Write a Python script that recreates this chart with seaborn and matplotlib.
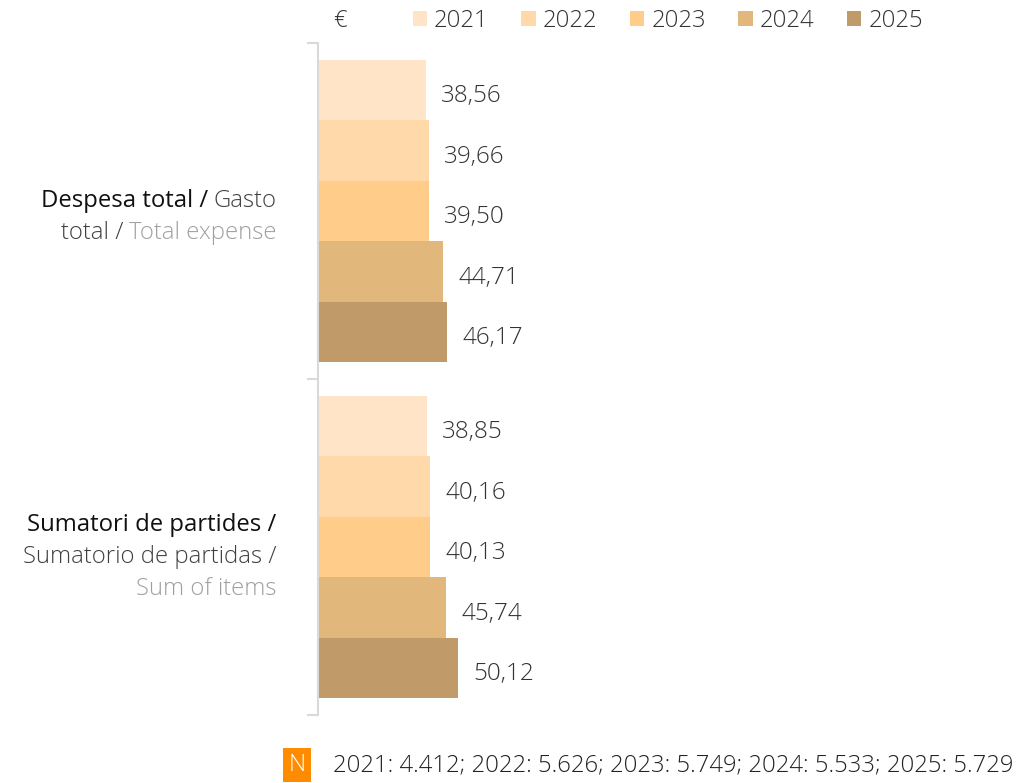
import matplotlib
matplotlib.use("Agg")
import matplotlib.pyplot as plt
from matplotlib.patches import Patch
import seaborn as sns
import pandas as pd

# data
categories = ["Despesa total", "Sumatori de partides"]
years = ["2021", "2022", "2023", "2024", "2025"]
despesa = [38.56, 39.66, 39.50, 44.71, 46.17]
sumatori = [38.85, 40.16, 40.13, 45.74, 50.12]
sample_n = ["4.412", "5.626", "5.749", "5.533", "5.729"]
colors = ["#FFE4C7", "#FFD9A9", "#FFCC8A", "#E2B77C", "#C19A6A"]

# multi-coloured category labels, one list of (text, colour) pieces per line
cat_labels = [
    [[("Despesa total /", "#111111"), ("Gasto", "#404040")],
     [("total /", "#404040"), ("Total expense", "#A0A0A0")]],
    [[("Sumatori de partides /", "#111111")],
     [("Sumatorio de partidas /", "#404040")],
     [("Sum of items", "#A0A0A0")]],
]

df = pd.DataFrame({
    "cat": [categories[0]] * 5 + [categories[1]] * 5,
    "year": years * 2,
    "value": despesa + sumatori,
})

sns.set_style("white")
plt.rcParams["font.family"] = ["Open Sans", "DejaVu Sans"]

FS = 17.2
W, H = 1021, 783
fig = plt.figure(figsize=(W / 100, H / 100), dpi=100)
ax = fig.add_axes([318 / W, 68 / H, 672 / W, 672 / H])

sns.barplot(data=df, x="value", y="cat", hue="year", palette=colors,
            orient="h", width=0.9, dodge=True, legend=False, ax=ax,
            saturation=1)

ax.set_xlim(0, 240)
ax.set_ylim(1.5, -0.5)
ax.set_xlabel("")
ax.set_ylabel("")
ax.set_xticks([])
ax.set_yticks([])
ax.set_yticks([-0.5, 0.5, 1.5], minor=True)
ax.tick_params(axis="y", which="minor", length=8, width=1.5, color="#D9D9D9",
               direction="out", left=True)
for s in ["top", "right", "bottom"]:
    ax.spines[s].set_visible(False)
ax.spines["left"].set_color("#D9D9D9")
ax.spines["left"].set_linewidth(1.5)

for cont in ax.containers:
    for p in cont.patches:
        p.set_edgecolor("none")
    labs = ax.bar_label(cont, labels=[f"{v:.2f}".replace(".", ",") for v in cont.datavalues],
                        padding=11, fontsize=17.5, color="#333333", fontweight="light")
    for t in labs:
        t.set_va("center")
        t.set_y(-4.5)

# category labels, right aligned, pieces placed right to left
fig.canvas.draw()
renderer = fig.canvas.get_renderer()
right_px = 276
gap_px = 5
for i, lines in enumerate(cat_labels):
    cy = H - ax.transData.transform((0, i))[1]  # pixel from top
    n = len(lines)
    shift = 12 if n == 2 else 16
    for k, pieces in enumerate(lines):
        base = cy + 32 * (k - (n - 1) / 2) + shift
        x = right_px
        for txt, col in reversed(pieces):
            t = fig.text(x / W, 1 - base / H, txt, ha="right", va="baseline",
                         fontsize=FS, color=col,
                         fontweight="normal" if col == "#111111" else "light")
            w = t.get_window_extent(renderer).width
            x -= w + gap_px

# legend
fig.text(333 / W, 1 - 21 / H, "€", ha="left", va="center", fontsize=FS,
         color="#333333", fontweight="light")
handles = [Patch(facecolor=c, edgecolor="none", label=y) for y, c in zip(years, colors)]
fig.legend(handles=handles, loc="center left", bbox_to_anchor=(403 / W, 1 - 21 / H),
           ncol=5, frameon=False, handlelength=0.6, handleheight=0.6,
           handletextpad=0.3, columnspacing=1.36, borderaxespad=0,
           prop={"size": FS, "weight": "light"}, labelcolor="#333333")

# footer
fig.text(297 / W, 1 - 765 / H, "N", ha="center", va="center", fontsize=FS,
         color="white", fontweight="light",
         bbox=dict(boxstyle="square,pad=0.22", facecolor="#FF8C00", edgecolor="none"))
note = "; ".join(f"{y}: {n}" for y, n in zip(years, sample_n))
fig.text(333 / W, 1 - 765 / H, note, ha="left", va="center", fontsize=FS,
         color="#222222", fontweight="light")

fig.savefig("out.png", dpi=100)
